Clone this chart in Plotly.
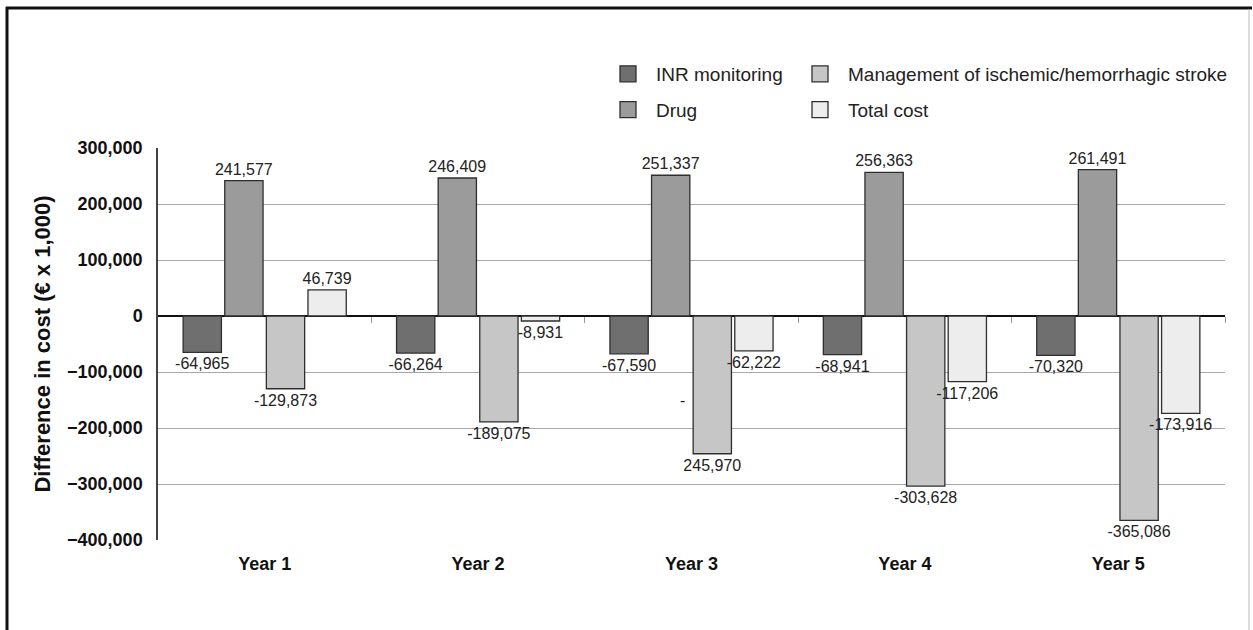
import plotly.graph_objects as go

years = ["Year 1", "Year 2", "Year 3", "Year 4", "Year 5"]
inr = [-64965, -66264, -67590, -68941, -70320]
drug = [241577, 246409, 251337, 256363, 261491]
mgmt = [-129873, -189075, -245970, -303628, -365086]
total = [46739, -8931, -62222, -117206, -173916]

names = ["INR monitoring", "Drug", "Management of ischemic/hemorrhagic stroke", "Total cost"]
colors = ["#6f6f6f", "#9b9b9b", "#c6c6c6", "#ededed"]
series = [inr, drug, mgmt, total]
legends = ["legend", "legend", "legend2", "legend2"]

FONT = "Liberation Sans, Arial, Helvetica, sans-serif"

fig = go.Figure()
for name, vals, col in zip(names, series, colors):
    labels = [f"{v:,}" for v in vals]
    if vals is mgmt:
        labels[2] = labels[2].lstrip("-")  # original shows the minus detached
    fig.add_trace(go.Bar(
        x=years, y=vals, name=name, showlegend=False,
        marker=dict(color=col, line=dict(color="#2e2e2e", width=1.3)),
        text=labels, textposition="outside", cliponaxis=False,
        constraintext="none",
        textfont=dict(family=FONT, size=16, color="#222"),
    ))

# legend entries
for i, (name, col, lg) in enumerate(zip(names, colors, legends)):
    fig.add_trace(go.Scatter(
        x=[None], y=[None], mode="markers", name=name, legend=lg,
        legendgroup=f"g{i}",
        marker=dict(symbol="square", size=16, color=col,
                    line=dict(color="#2e2e2e", width=1.3)),
    ))

# invisible trace for the zero-line tick axis
fig.add_trace(go.Scatter(x=[None], y=[None], xaxis="x2", showlegend=False))

L, R, T, B = 158, 28, 148, 90
W, H = 1253, 630
pw, ph = W - L - R, H - T - B

leg_common = dict(xanchor="left", y=(H - B - 55) / ph, yanchor="top",
                  xref="paper", yref="paper", tracegroupgap=8, itemwidth=46,
                  font=dict(size=19, color="#222"), bgcolor="rgba(0,0,0,0)")

fig.update_layout(
    width=W, height=H,
    margin=dict(l=L, r=R, t=T, b=B, autoexpand=False),
    paper_bgcolor="white", plot_bgcolor="white",
    barmode="group", bargap=0.22, bargroupgap=0.08,
    font=dict(family=FONT, color="#222"),
    legend=dict(x=(600 - L) / pw, **leg_common),
    legend2=dict(x=(792 - L) / pw, **leg_common),
    xaxis=dict(type="category", showgrid=False, showline=False, ticks="",
               tickfont=dict(family=FONT, size=18, color="#111", weight="bold"),
               ticklabelstandoff=11, range=[-0.5, 4.5], fixedrange=True),
    xaxis2=dict(type="linear", overlaying="x", anchor="free", position=4 / 7,
                side="bottom", range=[-0.5, 4.5], showgrid=False, showline=False,
                zeroline=False, tickmode="array", tickvals=[0.5, 1.5, 2.5, 3.5, 4.5],
                ticks="outside", ticklen=6, tickwidth=1, tickcolor="#999",
                showticklabels=False),
    yaxis=dict(range=[-400000, 300000], tickmode="linear", dtick=100000,
               tickformat=",", showgrid=True, gridcolor="#a8a8a8", gridwidth=1,
               zeroline=True, zerolinecolor="#111", zerolinewidth=2,
               showline=True, linecolor="#444", linewidth=1.5,
               tickfont=dict(family=FONT, size=18, color="#111", weight="bold"),
               ticklabelstandoff=10,
               title=dict(text="Difference in cost (€ x 1,000)", standoff=10,
                          font=dict(family=FONT, size=22, color="#111", weight="bold"))),
    annotations=[dict(x=2, y=-150000, xref="x", yref="y", text="-", showarrow=False,
                      xshift=-9, font=dict(family=FONT, size=16, color="#222"))],
    shapes=[
        dict(type="line", xref="paper", yref="paper", x0=(7 - L) / pw, x1=(7 - L) / pw,
             y0=(H - B - 7) / ph, y1=(H - B - 640) / ph, line=dict(color="#111", width=3)),
        dict(type="line", xref="paper", yref="paper", x0=(6 - L) / pw, x1=(1252 - L) / pw,
             y0=(H - B - 8) / ph, y1=(H - B - 8) / ph, line=dict(color="#111", width=3)),
        dict(type="line", xref="paper", yref="paper", x0=(1249 - L) / pw, x1=(1249 - L) / pw,
             y0=(H - B - 9) / ph, y1=(H - B - 640) / ph, line=dict(color="#bbb", width=1)),
    ],
)

fig.write_html("out.html", config={"displayModeBar": False},
               post_script="document.body.style.margin='0px';")
